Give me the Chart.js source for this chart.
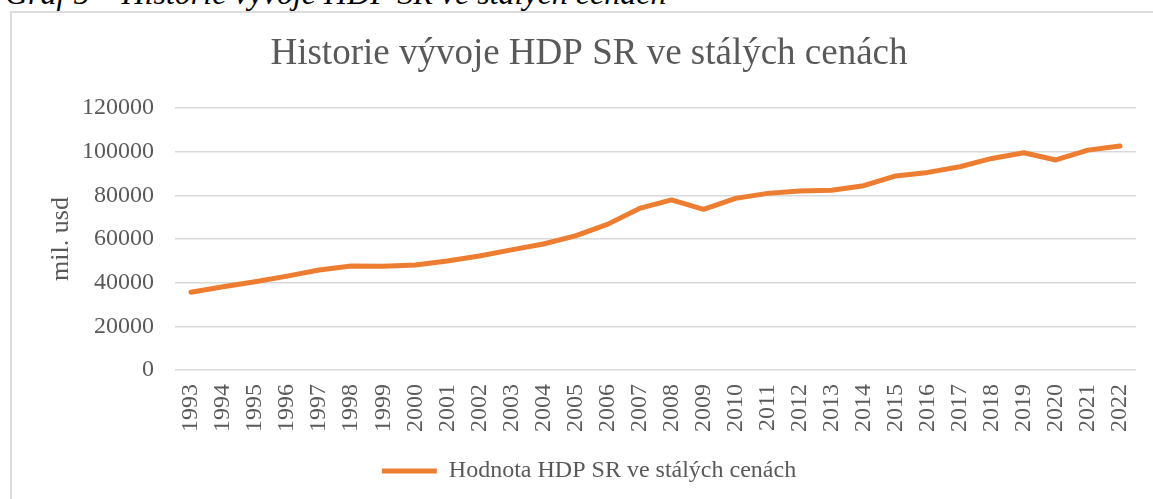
<!DOCTYPE html>
<html>
<head>
<meta charset="utf-8">
<script src="https://cdn.jsdelivr.net/npm/chart.js@4/dist/chart.umd.min.js"></script>
<style>
  html, body { margin: 0; padding: 0; overflow: hidden; background: #fff; width: 1153px; height: 499px; }
  #caption { position: absolute; left: 5px; top: -23px; font-family: "Liberation Serif", "Times New Roman", serif; font-style: italic; font-size: 32px; line-height: 32px; color: #000; white-space: nowrap; }
  #box { position: absolute; left: 10px; top: 11px; width: 1154px; height: 486px; border: 2px solid #dcdcdc; }
  #box canvas { position: absolute; left: 0; top: 0; }
</style>
</head>
<body>
<div id="caption">Graf 5 – Historie vývoje HDP SR ve stálých cenách</div>
<div id="box"><canvas id="c" width="1154" height="486"></canvas></div>
<script>
const years = ["1993","1994","1995","1996","1997","1998","1999","2000","2001","2002","2003","2004","2005","2006","2007","2008","2009","2010","2011","2012","2013","2014","2015","2016","2017","2018","2019","2020","2021","2022"];
const hdpValues = [35600, 38150, 40450, 43000, 45800, 47600, 47500, 48100, 49900, 52200, 55000, 57700, 61400, 66700, 74000, 77900, 73600, 78600, 80900, 82000, 82300, 84400, 88900, 90500, 93100, 96900, 99500, 96200, 100700, 102600];
const yTickLabels = ["0","20000","40000","60000","80000","100000","120000"];
const seriesName = "Hodnota HDP SR ve stálých cenách";
const chartTitle = "Historie vývoje HDP SR ve stálých cenách";
const yAxisTitle = "mil. usd";

const FONT = '"Liberation Serif", "Times New Roman", serif';
const GREY = '#595959';

new Chart(document.getElementById('c'), {
  type: 'line',
  data: {
    labels: years,
    datasets: [{
      label: seriesName,
      data: hdpValues,
      borderColor: '#ED7D31',
      backgroundColor: '#ED7D31',
      borderWidth: 5,
      borderCapStyle: 'round',
      borderJoinStyle: 'round',
      pointRadius: 0,
      pointHoverRadius: 0,
      pointStyle: 'line',
      tension: 0,
      fill: false
    }]
  },
  options: {
    responsive: false,
    animation: false,
    layout: { padding: { left: 30, right: 30, top: 0, bottom: 6 } },
    plugins: {
      title: {
        display: true,
        text: chartTitle,
        color: GREY,
        font: { family: FONT, size: 37, weight: 'normal' },
        padding: { top: 19.3, bottom: 31.3 }
      },
      legend: {
        display: true,
        position: 'bottom',
        labels: {
          usePointStyle: true,
          pointStyleWidth: 55,
          color: GREY,
          font: { family: FONT, size: 24 },
          padding: 10
        }
      },
      tooltip: { enabled: false }
    },
    scales: {
      x: {
        offset: true,
        grid: { display: false, drawTicks: false },
        border: { display: false },
        ticks: {
          autoSkip: false,
          minRotation: 90,
          maxRotation: 90,
          padding: 14,
          color: GREY,
          font: { family: FONT, size: 24 }
        },
        afterFit: (s) => { s.height = 79; }
      },
      y: {
        min: 0,
        max: 120000,
        grid: { color: '#d9d9d9', lineWidth: 1.5, drawTicks: false },
        border: { display: false },
        ticks: {
          stepSize: 20000,
          padding: 21,
          color: GREY,
          font: { family: FONT, size: 24 },
          callback: (v) => yTickLabels[Math.round(v / 20000)]
        },
        title: {
          display: true,
          text: yAxisTitle,
          color: GREY,
          font: { family: FONT, size: 26 },
          padding: { top: 4, bottom: 0 }
        },
        afterFit: (s) => { s.width = 133; }
      }
    }
  }
});
</script>
</body>
</html>
